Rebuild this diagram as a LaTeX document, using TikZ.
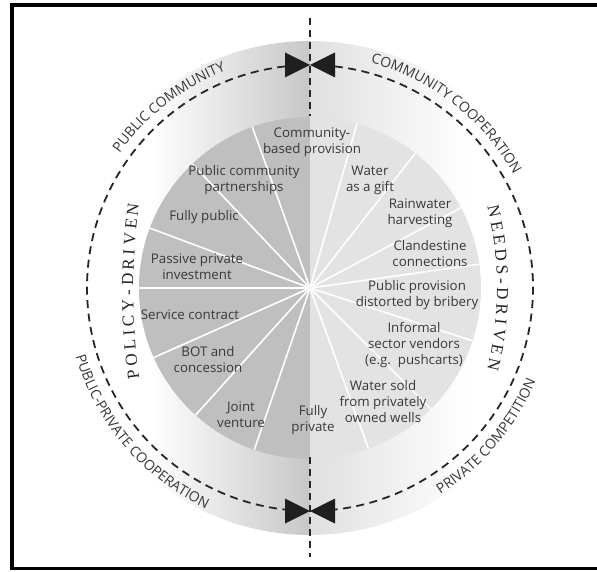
\documentclass[tikz,border=0pt]{standalone}
\usepackage{fontspec}
\setmainfont{Liberation Serif}
\newfontfamily\labfont{Open Sans}
\newfontfamily\capfont{Open Sans}
\newfontfamily\drvfont[WordSpace=0.85]{Liberation Serif}
\newcommand\capsz{\capfont\fontsize{14}{16}\selectfont}
\newcommand\drvsz{\drvfont\fontsize{17}{19}\selectfont}
\usetikzlibrary{decorations.text}
\begin{document}
\begin{tikzpicture}[x=1pt,y=1pt,
  lab/.style={font=\labfont\fontsize{13.3}{16}\selectfont, text=black!78, align=center, inner sep=0pt},
  ray/.style={white, line width=1.6pt},
  dashline/.style={line width=1.8pt, dash pattern=on 8pt off 5.5pt, black!85},
  vdash/.style={line width=1.8pt, dash pattern=on 7pt off 5pt, black!85},
  bow/.style={fill=black!88, draw=none},
  frame/.style={line width=3.5pt, black},
  arctext/.style={decorate, decoration={text along path, text align=center, text color=black!78}},
  drvtext/.style={decorate, decoration={text along path, text align=center, text color=black!85}}]
\useasboundingbox (0,0) rectangle (597,571);
\fill[white] (0,0) rectangle (597,571);
\coordinate (C) at (310,283);
% shaded band
\begin{scope}
  \clip (C) circle (247);
  \shade[left color=white, right color=black!22] (150,30) rectangle (310,540);
  \shade[left color=black!12, right color=white] (310,30) rectangle (470,540);
\end{scope}
% pie
\fill[black!25] (C) -- ++(90:171) arc[start angle=90,end angle=270,radius=171] -- cycle;
\fill[black!11] (C) -- ++(-90:171) arc[start angle=-90,end angle=90,radius=171] -- cycle;
\foreach \a in {109.7,133.5,159.5,180,204,228,251,74,52,28,8,-18,-45,-70}
  \draw[ray] (C) -- ++(\a:171);
% labels
\node[lab] (cbp) at (312,429) {Community-\\based provision};
\node[lab] (pcp) at (244,391) {Public community\\partnerships};
\node[lab] (fpu) at (204,354) {Fully public};
\node[lab] (ppi) at (197,304) {Passive private\\investment};
\node[lab] (svc) at (190,256) {Service contract};
\node[lab] (bot) at (208,211) {BOT and\\concession};
\node[lab] (jv)  at (241,156) {Joint\\venture};
\node[lab] (fpr) at (313,151) {Fully\\private};
\node[lab] (wg)  at (370,391) {Water\\as a gift};
\node[lab] (rh)  at (420,358) {Rainwater\\harvesting};
\node[lab] (cc)  at (430,317) {Clandestine\\connections};
\node[lab] (ppd) at (417,276) {Public provision\\distorted by bribery};
\node[lab] (isv) at (414,226) {Informal\\sector vendors\\(e.g.\ \ pushcarts)};
\node[lab] (ws)  at (383,169) {Water sold\\from privately\\owned wells};
% vertical dashed line
\draw[vdash] (310,553) -- (310,455);
\draw[vdash] (310,114) -- (310,14);
% dashed circle arcs
\draw[dashline] (C) ++(96.4:223) arc[start angle=96.4, end angle=263.6, radius=223];
\draw[dashline] (C) ++(83.6:223) arc[start angle=83.6, end angle=-83.6, radius=223];
% bowties
\coordinate (topb) at (310,506);
\coordinate (botb) at (310,60);
\fill[bow] (topb) -- ++(-25,12.5) -- ++(0,-25) -- cycle;
\fill[bow] (topb) -- ++(25,12.5) -- ++(0,-25) -- cycle;
\fill[bow] (botb) -- ++(-25,12.5) -- ++(0,-25) -- cycle;
\fill[bow] (botb) -- ++(25,12.5) -- ++(0,-25) -- cycle;
% curved labels
\path[arctext, decoration={text={|\capsz|PUBLIC COMMUNITY}}]
  (C) ++(173:233) arc[start angle=173, end angle=83, radius=233];
\path[arctext, decoration={text={|\capsz|COMMUNITY COOPERATION}}]
  (C) ++(97:233) arc[start angle=97, end angle=7, radius=233];
\path[arctext, decoration={text={|\capsz|PUBLIC-PRIVATE COOPERATION}}]
  (C) ++(175:244) arc[start angle=175, end angle=266, radius=244];
\path[arctext, decoration={text={|\capsz|PRIVATE COMPETITION}}]
  (C) ++(275:244) arc[start angle=275, end angle=365, radius=244];
\path[drvtext, decoration={text={|\drvsz|P O L I C Y - D R I V E N}}]
  (143,170) .. controls (130,243) and (130,317) .. (143,390);
\path[drvtext, decoration={text={|\drvsz|N E E D S - D R I V E N}}]
  (480,390) .. controls (502.7,320) and (502.7,246) .. (480,176);
% frame
\draw[frame] (597,566) -- (12,566) -- (12,2.5) -- (597,2.5);
\end{tikzpicture}
\end{document}
